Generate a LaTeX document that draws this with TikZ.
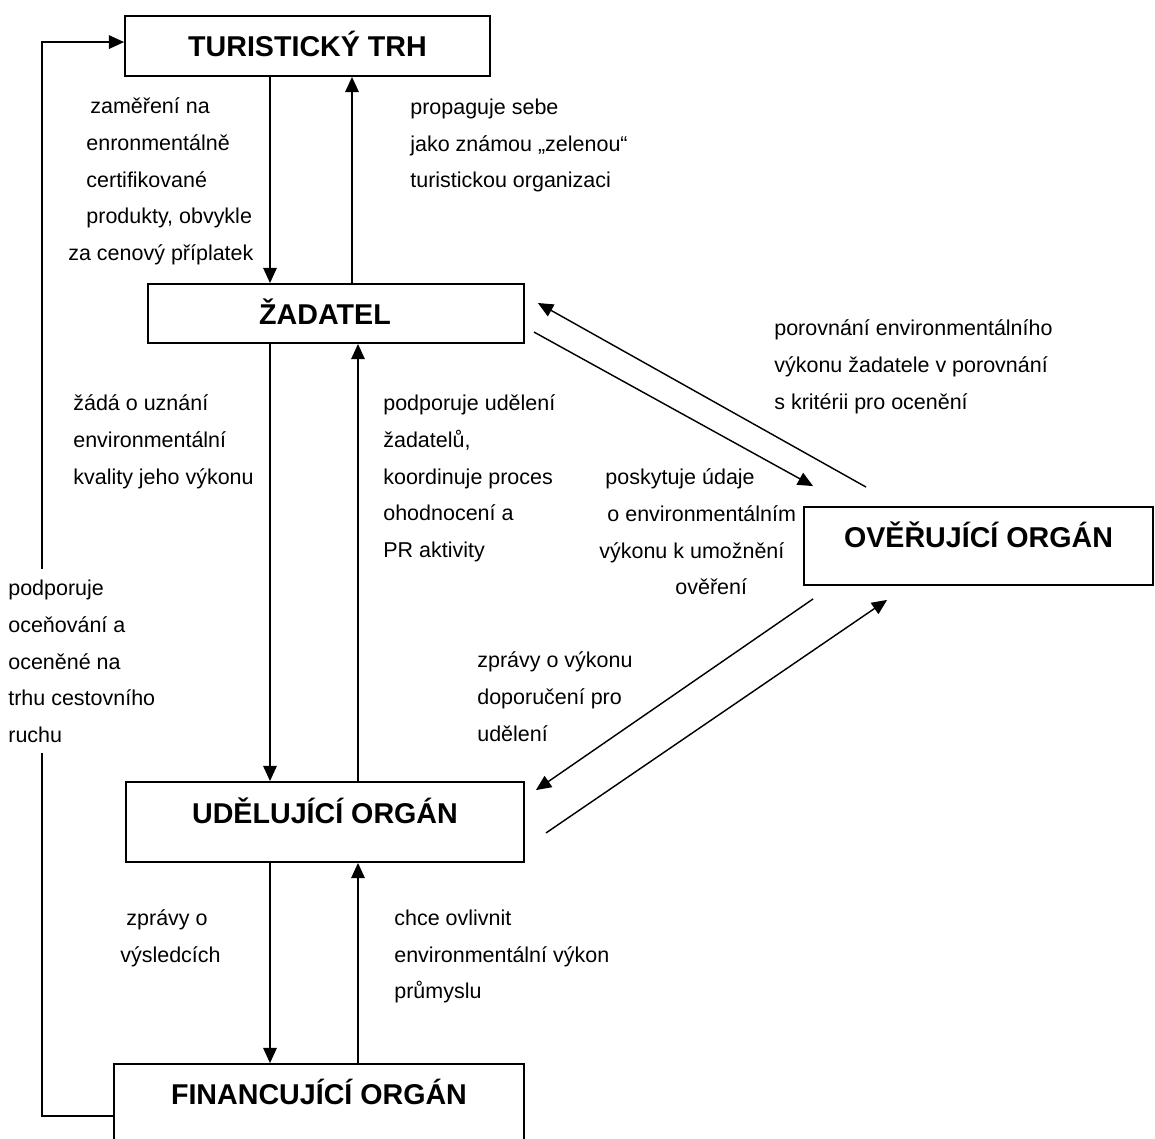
\documentclass[tikz,border=0pt]{standalone}
\usepackage{fontspec}
\setmainfont{Liberation Sans}
\usetikzlibrary{arrows.meta}

\tikzset{
  organ/.style={draw, line width=1pt, inner sep=0pt, text height=12pt,
    font=\fontsize{16pt}{19pt}\selectfont\bfseries},
  popis/.style={anchor=north west, inner sep=0pt, align=left,
    font=\fontsize{12pt}{20.5pt}\selectfont},
  sipka/.style={line width=1pt, -{Triangle[length=8.5pt,width=7.5pt]}},
  sipkad/.style={sipka, line width=0.8pt},
}

\begin{document}
\begin{tikzpicture}[x=0.5587pt, y=-0.5587pt]
        \useasboundingbox (0,0) rectangle (1155,1138);
        \clip (0,0) rectangle (1155,1138);
        % organy
        \node[organ, minimum width=203.9pt, minimum height=33.5pt] (trh) at (307.5,46) {TURISTICKÝ TRH};
        \node[organ, minimum width=210.1pt, minimum height=33pt] (zad) at (336,313.5) {ŽADATEL\hspace*{12.3pt}};
        \node[organ, minimum width=195pt, minimum height=43.6pt, text depth=10.5pt] (ovr) at (978.5,546) {OVĚŘUJÍCÍ ORGÁN};
        \node[organ, minimum width=222.4pt, minimum height=44.7pt, text depth=10.5pt] (udl) at (325,822) {UDĚLUJÍCÍ ORGÁN};
        \node[organ, minimum width=229.1pt, minimum height=44.1pt, text depth=10.5pt] (fin) at (319,1103.5) {FINANCUJÍCÍ ORGÁN};
        % svisle drahy
        \coordinate (l1) at (270,0);
        \coordinate (l2) at (352,0);
        \coordinate (l3) at (358,0);
        \draw[sipka] (trh.south -| l1) -- (zad.north -| l1);
        \draw[sipka] (zad.north -| l2) -- (trh.south -| l2);
        \draw[sipka] (zad.south -| l1) -- (udl.north -| l1);
        \draw[sipka] (udl.north -| l3) -- (zad.south -| l3);
        \draw[sipka] (udl.south -| l1) -- (fin.north -| l1);
        \draw[sipka] (fin.north -| l3) -- (udl.south -| l3);
        % zpetna vazba vlevo
        \draw[sipka] ([yshift=-7pt]fin.west) -- ++(-71,0) |- ([yshift=2.2pt]trh.west);
        % sikme
        \draw[sipkad] ([shift={(9,18.5)}]zad.east) -- ([shift={(10,-20)}]ovr.north west);
        \draw[sipkad] ([shift={(63,-19)}]ovr.north west) -- ([shift={(13,-10.5)}]zad.east);
        \draw[sipkad] ([shift={(10,13)}]ovr.south west) -- ([shift={(11,9)}]udl.north east);
        \draw[sipkad] ([shift={(21,11)}]udl.east) -- ([shift={(84,14)}]ovr.south west);
        % popisy
        \node[popis] (p1) at (68,97.5) {\hspace*{12.3pt}zaměření na\\\hspace*{10.1pt}enronmentálně\\\hspace*{10.1pt}certifikované\\\hspace*{10.1pt}produkty, obvykle\\za cenový příplatek};
        \node[popis] (p2) at (410,98.5) {propaguje sebe\\jako známou „zelenou“\\turistickou organizaci};
        \node[popis] (p3) at (774,319.5) {porovnání environmentálního\\výkonu žadatele v porovnání\\s kritérii pro ocenění};
        \node[popis] (p4) at (73,394.5) {žádá o uznání\\environmentální\\kvality jeho výkonu};
        \node[popis] (p5) at (383,394.5) {podporuje udělení\\žadatelů,\\koordinuje proces\\ohodnocení a\\PR aktivity};
        \node[popis] (p6) at (599,468.5) {\hspace*{3.4pt}poskytuje údaje\\\hspace*{4.5pt}o environmentálním\\výkonu k umožnění\\\hspace*{42.5pt}ověření};
        \node[popis, fill=white, inner ysep=6pt] (p7) at (8,569) {podporuje\\oceňování a\\oceněné na\\trhu cestovního\\ruchu};
        \node[popis] (p8) at (477,651.5) {zprávy o výkonu\\doporučení pro\\udělení};
        \node[popis] (p9) at (120,909.5) {\hspace*{3.4pt}zprávy o\\výsledcích};
        \node[popis] (p10) at (394,909.5) {chce ovlivnit\\environmentální výkon\\průmyslu};
\end{tikzpicture}
\end{document}
